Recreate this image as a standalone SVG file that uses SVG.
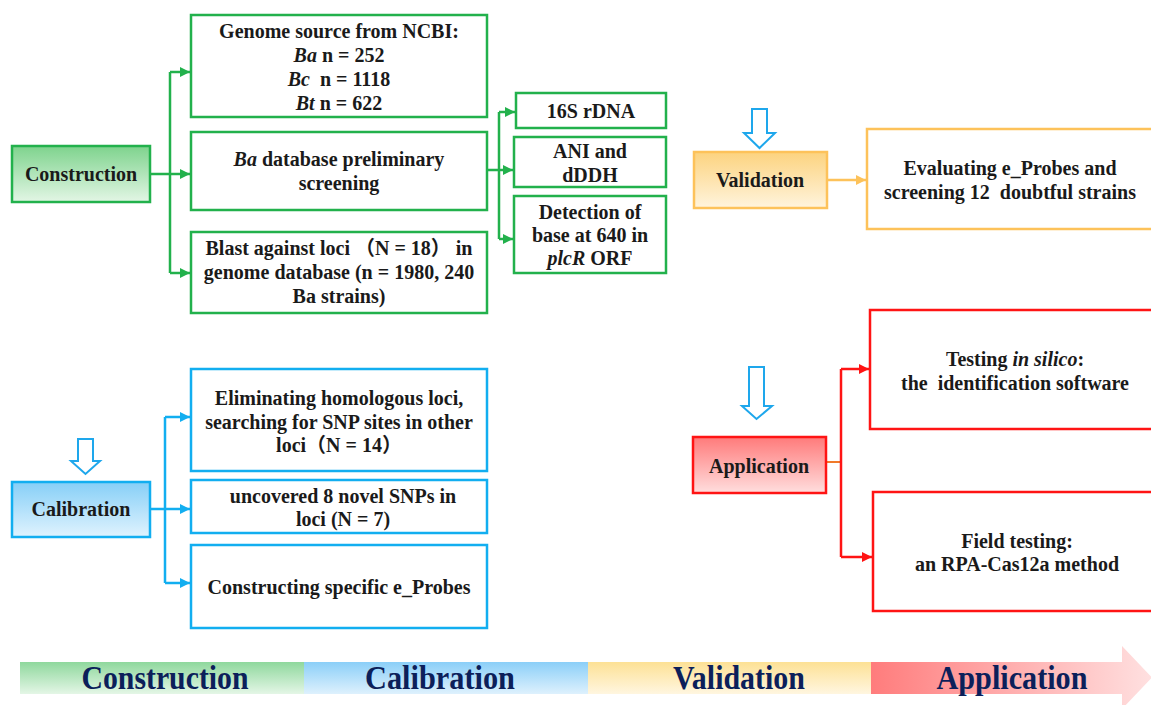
<svg xmlns="http://www.w3.org/2000/svg" width="1151" height="705" viewBox="0 0 1151 705">
<defs>
<style>
.t{font-family:"Liberation Serif","Times New Roman","Noto Sans CJK SC",serif;font-weight:bold;font-size:20px;fill:#1a1a1a;text-anchor:middle}
.bt{font-family:"Liberation Serif","Times New Roman",serif;font-weight:bold;font-size:33px;fill:#0c1f5a;text-anchor:middle}
.g{fill:#fff;stroke:#22b14c;stroke-width:2.5}
.b{fill:#fff;stroke:#12aef0;stroke-width:2.5}
.o{fill:#fff;stroke:#fdc25a;stroke-width:2.5}
.r{fill:#fff;stroke:#ff1414;stroke-width:2.5}
.lg{fill:none;stroke:#22b14c;stroke-width:2.5}
.lb{fill:none;stroke:#12aef0;stroke-width:2.5}
.lo{fill:none;stroke:#fdc25a;stroke-width:2.5}
.lr{fill:none;stroke:#ff1414;stroke-width:2.5}
.hol{fill:#fff;stroke:#1ea7ec;stroke-width:2}
</style>
<linearGradient id="gG" x1="0" y1="0" x2="0" y2="1"><stop offset="0" stop-color="#7ed38d"/><stop offset="1" stop-color="#e3f6e5"/></linearGradient>
<linearGradient id="gB" x1="0" y1="0" x2="0" y2="1"><stop offset="0" stop-color="#86cff7"/><stop offset="1" stop-color="#e0f3fe"/></linearGradient>
<linearGradient id="gO" x1="0" y1="0" x2="0" y2="1"><stop offset="0" stop-color="#fcd37f"/><stop offset="1" stop-color="#fff4dd"/></linearGradient>
<linearGradient id="gR" x1="0" y1="0" x2="0" y2="1"><stop offset="0" stop-color="#ff7a7a"/><stop offset="1" stop-color="#ffdede"/></linearGradient>
<linearGradient id="bG" x1="0" y1="0" x2="0" y2="1"><stop offset="0" stop-color="#8fd89d"/><stop offset="1" stop-color="#e4f6e6"/></linearGradient>
<linearGradient id="bB" x1="0" y1="0" x2="0" y2="1"><stop offset="0" stop-color="#8bcff8"/><stop offset="1" stop-color="#def1fd"/></linearGradient>
<linearGradient id="bO" x1="0" y1="0" x2="0" y2="1"><stop offset="0" stop-color="#fde195"/><stop offset="1" stop-color="#fff6e0"/></linearGradient>
<linearGradient id="bR" gradientUnits="userSpaceOnUse" x1="871" y1="0" x2="1151" y2="0"><stop offset="0" stop-color="#ff7c7c"/><stop offset="1" stop-color="#ffe0e0"/></linearGradient>
<marker id="mG" markerUnits="userSpaceOnUse" markerWidth="10" markerHeight="10" refX="10" refY="5" orient="auto"><path d="M0,0 L10,5 L0,10 z" fill="#22b14c"/></marker>
<marker id="mB" markerUnits="userSpaceOnUse" markerWidth="10" markerHeight="10" refX="10" refY="5" orient="auto"><path d="M0,0 L10,5 L0,10 z" fill="#12aef0"/></marker>
<marker id="mO" markerUnits="userSpaceOnUse" markerWidth="10" markerHeight="10" refX="10" refY="5" orient="auto"><path d="M0,0 L10,5 L0,10 z" fill="#fdc25a"/></marker>
<marker id="mR" markerUnits="userSpaceOnUse" markerWidth="10" markerHeight="10" refX="10" refY="5" orient="auto"><path d="M0,0 L10,5 L0,10 z" fill="#ff1414"/></marker>
</defs>
<rect width="1151" height="705" fill="#fff"/>

<g id="connectors">
<path class="lg" d="M150,174 H170 M170,72 V273"/>
<path class="lg" d="M170,72 H190" marker-end="url(#mG)"/>
<path class="lg" d="M170,174 H190" marker-end="url(#mG)"/>
<path class="lg" d="M170,273 H190" marker-end="url(#mG)"/>
<path class="lg" d="M487,170 H499 M499,112 V239"/>
<path class="lg" d="M499,112 H515" marker-end="url(#mG)"/>
<path class="lg" d="M499,170 H513" marker-end="url(#mG)"/>
<path class="lg" d="M499,239 H513" marker-end="url(#mG)"/>
<path class="lb" d="M150,509 H165 M165,417 V583"/>
<path class="lb" d="M165,417 H190" marker-end="url(#mB)"/>
<path class="lb" d="M165,509 H190" marker-end="url(#mB)"/>
<path class="lb" d="M165,583 H190" marker-end="url(#mB)"/>
<path class="lo" d="M827,180 H866" marker-end="url(#mO)"/>
<path fill="none" stroke="#f07a2a" stroke-width="2" d="M826,462 H841"/>
<path class="lr" d="M841,369 V557"/>
<path class="lr" d="M841,369 H869" marker-end="url(#mR)"/>
<path class="lr" d="M841,557 H872" marker-end="url(#mR)"/>
</g>

<g id="construction">
<rect x="12" y="146" width="138" height="56" fill="url(#gG)" stroke="#22b14c" stroke-width="2.5"/>
<text class="t" x="81" y="181">Construction</text>
</g>
<g id="genome">
<rect class="g" x="191" y="15" width="296" height="102"/>
<text class="t" x="339" y="38">Genome source from NCBI:</text>
<text class="t" x="339" y="62"><tspan font-style="italic">Ba</tspan> n = 252</text>
<text class="t" x="339" y="86" xml:space="preserve"><tspan font-style="italic">Bc</tspan>  n = 1118</text>
<text class="t" x="339" y="110"><tspan font-style="italic">Bt</tspan> n = 622</text>
</g>
<g id="badb">
<rect class="g" x="191" y="132" width="296" height="78"/>
<text class="t" x="339" y="166"><tspan font-style="italic">Ba</tspan> database preliminary</text>
<text class="t" x="339" y="190">screening</text>
</g>
<g id="blast">
<rect class="g" x="191" y="232" width="296" height="81"/>
<text class="t" x="339" y="255">Blast against loci （N = 18） in</text>
<text class="t" x="339" y="279">genome database (n = 1980, 240</text>
<text class="t" x="339" y="303">Ba strains)</text>
</g>
<g id="rdna">
<rect class="g" x="516" y="93" width="150" height="35"/>
<text class="t" x="591" y="118">16S rDNA</text>
</g>
<g id="ani">
<rect class="g" x="514" y="137" width="152" height="50"/>
<text class="t" x="590" y="158">ANI and</text>
<text class="t" x="590" y="182">dDDH</text>
</g>
<g id="detection">
<rect class="g" x="514" y="196" width="152" height="77"/>
<text class="t" x="590" y="219">Detection of</text>
<text class="t" x="590" y="242">base at 640 in</text>
<text class="t" x="590" y="265"><tspan font-style="italic">plcR</tspan> ORF</text>
</g>

<g id="validation">
<path class="hol" d="M752,109 H767 V133 H775 L759.5,148 L744,133 H752 Z"/>
<rect x="694" y="152" width="133" height="56" fill="url(#gO)" stroke="#fdc25a" stroke-width="2.5"/>
<text class="t" x="760" y="187">Validation</text>
</g>
<g id="evaluating">
<rect class="o" x="867" y="129" width="300" height="100"/>
<text class="t" x="1010" y="175">Evaluating e_Probes and</text>
<text class="t" x="1010" y="199" xml:space="preserve">screening 12  doubtful strains</text>
</g>

<g id="calibration">
<path class="hol" d="M78,439 H93 V461 H100 L85.5,474 L71,461 H78 Z"/>
<rect x="12" y="482" width="138" height="55" fill="url(#gB)" stroke="#12aef0" stroke-width="2.5"/>
<text class="t" x="81" y="516">Calibration</text>
</g>
<g id="eliminating">
<rect class="b" x="191" y="369" width="296" height="102"/>
<text class="t" x="339" y="405">Eliminating homologous loci,</text>
<text class="t" x="339" y="429">searching for SNP sites in other</text>
<text class="t" x="339" y="452">loci（N = 14）</text>
</g>
<g id="uncovered">
<rect class="b" x="191" y="480" width="296" height="53"/>
<text class="t" x="343" y="503">uncovered 8 novel SNPs in</text>
<text class="t" x="343" y="526">loci (N = 7)</text>
</g>
<g id="constructing">
<rect class="b" x="191" y="545" width="296" height="83"/>
<text class="t" x="339" y="594">Constructing specific e_Probes</text>
</g>

<g id="application">
<path class="hol" d="M749,367 H764 V406 H772 L756.5,419 L742,406 H749 Z"/>
<rect x="693" y="437" width="133" height="56" fill="url(#gR)" stroke="#ff1414" stroke-width="2.5"/>
<text class="t" x="759" y="473">Application</text>
</g>
<g id="testing">
<rect class="r" x="870" y="310" width="300" height="119"/>
<text class="t" x="1015" y="366">Testing <tspan font-style="italic">in silico</tspan>:</text>
<text class="t" x="1015" y="390" xml:space="preserve">the  identification software</text>
</g>
<g id="field">
<rect class="r" x="873" y="492" width="300" height="119"/>
<text class="t" x="1017" y="548">Field testing:</text>
<text class="t" x="1017" y="571">an RPA-Cas12a method</text>
</g>

<g id="timeline">
<rect x="20" y="662" width="284" height="32" fill="url(#bG)"/>
<rect x="304" y="662" width="284" height="32" fill="url(#bB)"/>
<rect x="588" y="662" width="283" height="32" fill="url(#bO)"/>
<path d="M871,662 H1122 V646 L1152,677.5 L1122,709 V694 H871 Z" fill="url(#bR)"/>
<text class="bt" x="165" y="689" textLength="167" lengthAdjust="spacingAndGlyphs">Construction</text>
<text class="bt" x="440" y="689" textLength="150" lengthAdjust="spacingAndGlyphs">Calibration</text>
<text class="bt" x="739" y="689" textLength="132" lengthAdjust="spacingAndGlyphs">Validation</text>
<text class="bt" x="1012" y="689" textLength="151" lengthAdjust="spacingAndGlyphs">Application</text>
</g>
</svg>
